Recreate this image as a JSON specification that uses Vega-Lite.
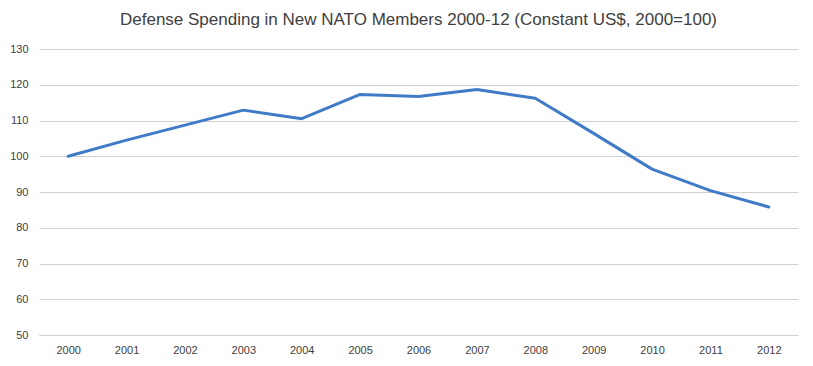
{
  "$schema": "https://vega.github.io/schema/vega-lite/v6.json",
  "width": 759,
  "height": 286,
  "autosize": {"type": "none"},
  "padding": {"left": 39, "top": 49, "right": 15, "bottom": 31},
  "background": "white",
  "title": {
    "text": "Defense Spending in New NATO Members 2000-12 (Constant US$, 2000=100)",
    "font": "Liberation Sans",
    "fontSize": 17,
    "fontWeight": "normal",
    "color": "#404040",
    "anchor": "middle",
    "offset": 14
  },
  "data": {
    "values": [
      {"year": "2000", "value": 100.0},
      {"year": "2001", "value": 104.5},
      {"year": "2002", "value": 108.7},
      {"year": "2003", "value": 112.9},
      {"year": "2004", "value": 110.5},
      {"year": "2005", "value": 117.3},
      {"year": "2006", "value": 116.7},
      {"year": "2007", "value": 118.7},
      {"year": "2008", "value": 116.2},
      {"year": "2009", "value": 106.4},
      {"year": "2010", "value": 96.4},
      {"year": "2011", "value": 90.4},
      {"year": "2012", "value": 85.8}
    ]
  },
  "mark": {"type": "line", "color": "#3F7BC6", "strokeWidth": 3, "strokeCap": "round", "strokeJoin": "round"},
  "encoding": {
    "x": {
      "field": "year",
      "type": "ordinal",
      "scale": {"type": "point", "padding": 0.5},
      "axis": {
        "title": null,
        "labelAngle": 0,
        "ticks": false,
        "domain": true,
        "domainColor": "#D0D0D0",
        "labelPadding": 9,
        "labelFont": "Liberation Sans",
        "labelFontSize": 11,
        "labelColor": "#404040",
        "grid": false
      }
    },
    "y": {
      "field": "value",
      "type": "quantitative",
      "scale": {"domain": [50, 130], "nice": false, "zero": false},
      "axis": {
        "title": null,
        "values": [50, 60, 70, 80, 90, 100, 110, 120, 130],
        "ticks": false,
        "domain": false,
        "grid": true,
        "gridColor": "#D0D0D0",
        "labelPadding": 11,
        "labelFont": "Liberation Sans",
        "labelFontSize": 11,
        "labelColor": "#404040"
      }
    }
  },
  "config": {"view": {"stroke": null}}
}
